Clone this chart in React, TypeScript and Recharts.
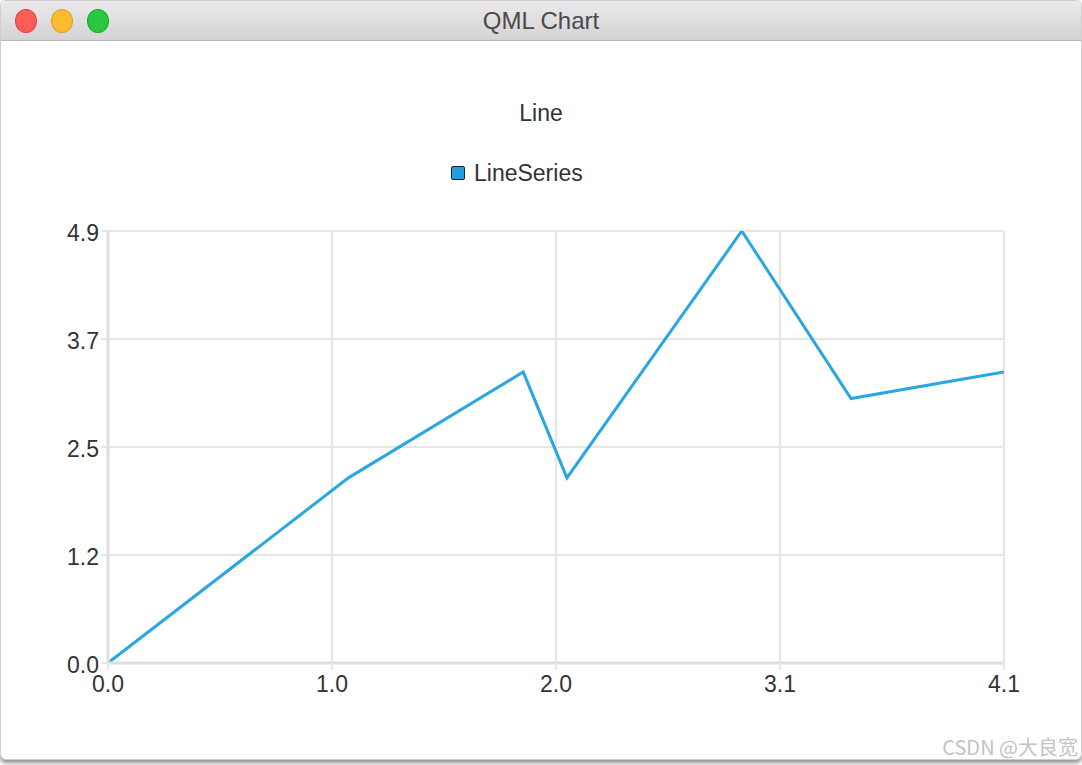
import React from "react";
import { LineChart, Line, XAxis, YAxis, CartesianGrid } from "recharts";

const xValues = [0, 1.1, 1.9, 2.1, 2.9, 3.4, 4.1];
const yValues = [0, 2.1, 3.3, 2.1, 4.9, 3.0, 3.3];
const xTicks = [0, 1.025, 2.05, 3.075, 4.1];
const xTickLabels = ["0.0", "1.0", "2.0", "3.1", "4.1"];
const yTicks = [0, 1.225, 2.45, 3.675, 4.9];
const yTickLabels = ["0.0", "1.2", "2.5", "3.7", "4.9"];
const seriesName = "LineSeries";
const chartTitle = "Line";
const windowTitle = "QML Chart";

const data = xValues.map((x, i) => ({ x, y: yValues[i] }));

const FONT = "'Liberation Sans', Arial, sans-serif";
const LINE_COLOR = "#2aa6e1";
const GRID = "#e6e6e6";
const FS = 23;

const labelFor = (ticks: number[], labels: string[]) => (v: number) => {
  const i = ticks.findIndex((t) => Math.abs(t - v) < 1e-9);
  return i >= 0 ? labels[i] : String(v);
};

export default function App() {
  return (
    <div style={{ position: "fixed", left: 0, top: 0, width: 1082, height: 765, background: "#fff", overflow: "hidden" }}>
      {/* window frame */}
      <div style={{ position: "absolute", left: 0, top: 0, width: 1080, height: 758, border: "1px solid #cfcfcf", borderRadius: 6, background: "#fff", boxShadow: "0 3px 4px rgba(0,0,0,0.45)" }} />
      <div style={{ position: "absolute", left: 1, top: 1, width: 1080, height: 39, background: "linear-gradient(#ebe9eb, #d4d2d4)", borderBottom: "1px solid #b8b8b8", borderTopLeftRadius: 6, borderTopRightRadius: 6 }} />
      {[{ c: "#fd5d56", b: "#e0443e" }, { c: "#fdbc2e", b: "#dea123" }, { c: "#27c840", b: "#1aab29" }].map((d, i) => (
        <div key={i} style={{ position: "absolute", left: 15 + i * 36, top: 9, width: 22, height: 24, borderRadius: "50%", background: d.c, boxSizing: "border-box", border: `1px solid ${d.b}` }} />
      ))}
      <div style={{ position: "absolute", left: 0, top: 7, width: 1082, textAlign: "center", fontFamily: FONT, fontSize: 24, lineHeight: "28px", color: "#4a4a4a" }}>{windowTitle}</div>

      <div style={{ position: "absolute", left: 0, top: 99, width: 1082, textAlign: "center", fontFamily: FONT, fontSize: FS, lineHeight: "28px", color: "#333" }}>{chartTitle}</div>

      <div style={{ position: "absolute", left: 451, top: 159, display: "flex", alignItems: "center", fontFamily: FONT, fontSize: FS, lineHeight: "28px", color: "#333" }}>
        <span style={{ display: "inline-block", width: 12, height: 12, background: "#1f9fdf", border: "1.5px solid #222", borderRadius: 2, marginRight: 9 }} />
        <span>{seriesName}</span>
      </div>

      <div style={{ position: "absolute", left: 0, top: 0 }}>
        <LineChart width={1082} height={765} data={data} margin={{ top: 231, right: 78, bottom: 72, left: 48 }}>
          <CartesianGrid stroke={GRID} strokeWidth={2} horizontalValues={yTicks} verticalValues={xTicks} />
          <XAxis
            dataKey="x"
            type="number"
            domain={[0, 4.1]}
            ticks={xTicks}
            tickFormatter={labelFor(xTicks, xTickLabels)}
            height={30}
            axisLine={{ stroke: "#dedede", strokeWidth: 3 }}
            tickLine={{ stroke: GRID, strokeWidth: 2 }}
            tickSize={7}
            tick={{ fill: "#333", fontSize: FS, fontFamily: FONT, dy: 4 }}
            interval={0}
            allowDataOverflow
          />
          <YAxis
            type="number"
            domain={[0, 4.9]}
            ticks={yTicks}
            tickFormatter={labelFor(yTicks, yTickLabels)}
            width={60}
            axisLine={{ stroke: "#dedede", strokeWidth: 3 }}
            tickLine={{ stroke: GRID, strokeWidth: 2 }}
            tickSize={7}
            tick={{ fill: "#333", fontSize: FS, fontFamily: FONT, dy: 2 }}
            interval={0}
            allowDataOverflow
          />
          <Line type="linear" dataKey="y" name={seriesName} stroke={LINE_COLOR} strokeWidth={3} dot={false} activeDot={false} isAnimationActive={false} />
        </LineChart>
      </div>

      <div style={{ position: "absolute", right: 4, top: 734, fontFamily: "'Noto Sans CJK SC', sans-serif", fontSize: 20, lineHeight: "26px", color: "#c4c4c4" }}>CSDN @大良宽</div>
    </div>
  );
}
